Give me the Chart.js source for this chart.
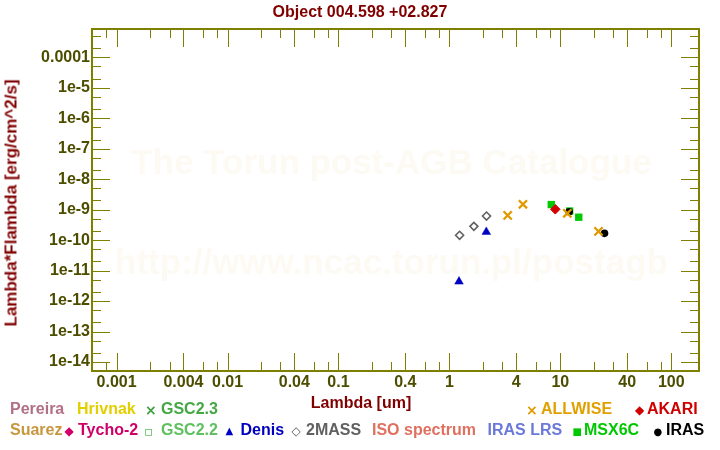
<!DOCTYPE html>
<html><head><meta charset="utf-8">
<script src="https://cdn.jsdelivr.net/npm/chart.js@4.4.0/dist/chart.umd.min.js"></script>
<style>
html,body{margin:0;padding:0;background:#fff;}
#wrap{position:relative;width:720px;height:450px;overflow:hidden;font-family:"Liberation Sans",Arial,sans-serif;font-weight:bold;}
#c{position:absolute;left:0;top:0;}
.t{position:absolute;white-space:nowrap;font-weight:bold;}
</style></head><body>
<div id="wrap"><canvas id="c" width="720" height="450"></canvas></div>
<script>
// ---- data ----
const xTickValues = [0.001,0.004,0.01,0.04,0.1,0.4,1,4,10,40,100];
const xTickLabels = ["0.001","0.004","0.01","0.04","0.1","0.4","1","4","10","40","100"];
const yTickValues = [1e-4,1e-5,1e-6,1e-7,1e-8,1e-9,1e-10,1e-11,1e-12,1e-13,1e-14];
const yTickLabels = ["0.0001","1e-5","1e-6","1e-7","1e-8","1e-9","1e-10","1e-11","1e-12","1e-13","1e-14"];

const twomassX = [1.235, 1.662, 2.159];
const twomassY = [1.44e-10, 2.84e-10, 6.18e-10];
const denisX = [1.22, 2.15];
const denisY = [4.35e-12, 1.86e-10];
const allwiseX = [3.35, 4.6, 11.56, 22.08];
const allwiseY = [6.51e-10, 1.50e-9, 7.58e-10, 1.94e-10];
const msxX = [8.28, 12.13, 14.65];
const msxY = [1.47e-9, 9.0e-10, 5.64e-10];
const akariX = [9];
const akariY = [1.03e-9];
const irasX = [12, 25];
const irasY = [8.55e-10, 1.67e-10];

const pts = (xs, ys) => xs.map((x, i) => ({x: x, y: ys[i]}));

// ---- text overlay ----
const wrap = document.getElementById('wrap');
function addText(str, left, baseline, color, size, opts) {
  opts = opts || {};
  const s = document.createElement('div');
  s.className = 't';
  s.textContent = str;
  s.style.color = color;
  s.style.fontSize = size + 'px';
  s.style.lineHeight = size + 'px';
  s.style.top = (baseline - 0.8465 * size) + 'px';
  s.style.left = left + 'px';
  if (opts.center) s.style.transform = 'translateX(-50%)';
  if (opts.family) s.style.fontFamily = opts.family;
  wrap.appendChild(s);
  return s;
}
addText("Object 004.598 +02.827", 360, 17.5, "#800000", 16, {center: true});
addText("Lambda [um]", 361, 409, "#800000", 16, {center: true});
const yt = document.createElement('div');
yt.className = 't';
yt.textContent = "Lambda*Flambda [erg/cm^2/s]";
yt.style.cssText += 'color:#800000;font-size:17px;line-height:17px;left:10.5px;top:203px;transform:translate(-50%,-50%) rotate(-90deg);';
wrap.appendChild(yt);

const sym = "DejaVu Sans";
// legend row 1
addText("Pereira", 10, 415, "#b07088", 16);
addText("Hrivnak", 77, 415, "#e3cf00", 16);
addText("×", 145, 414.5, "#40a040", 14, {family: sym});
addText("GSC2.3", 161, 415, "#44a844", 16);
addText("×", 526, 414.5, "#e09a00", 14, {family: sym});
addText("ALLWISE", 541, 415, "#e0a000", 16);
addText("◆", 635, 414, "#d00000", 12, {family: sym});
addText("AKARI", 647, 415, "#d00000", 16);
// legend row 2
addText("Suarez", 10, 435.7, "#c8963c", 16);
addText("◆", 64.5, 435, "#d0006a", 12, {family: sym});
addText("Tycho-2", 78, 435.7, "#d0006a", 16);
addText("▫", 144, 436, "#60c060", 14, {family: sym});
addText("GSC2.2", 161, 435.7, "#60c060", 16);
addText("▲", 225.5, 434.5, "#0000c0", 10, {family: sym});
addText("Denis", 240.5, 435.7, "#0000c0", 16);
addText("◇", 291.5, 435, "#606060", 12, {family: sym});
addText("2MASS", 306, 435.7, "#606060", 16);
addText("ISO spectrum", 372, 435.7, "#e07060", 16);
addText("IRAS LRS", 487.5, 435.7, "#6a78d8", 16);
addText("■", 572.5, 435, "#00c800", 10, {family: sym});
addText("MSX6C", 584, 435.7, "#00c800", 16);
addText("●", 653.5, 435, "#000000", 10, {family: sym});
addText("IRAS", 666, 435.7, "#000000", 16);

// ---- plugins ----
const FRAME = '#808000';
const watermark = {
  id: 'watermark',
  beforeDatasetsDraw(chart) {
    const a = chart.chartArea, ctx = chart.ctx;
    ctx.save();
    ctx.fillStyle = '#fcfaf3';
    ctx.font = 'bold 35px "Liberation Sans", Arial, sans-serif';
    ctx.textAlign = 'center';
    ctx.textBaseline = 'middle';
    const cx = (a.left + a.right) / 2 - 4;
    ctx.fillText('The Torun post-AGB Catalogue', cx, a.top + (a.bottom - a.top) * 0.395);
    ctx.fillText('http://www.ncac.torun.pl/postagb', cx, a.top + (a.bottom - a.top) * 0.688);
    ctx.restore();
  }
};
const frame = {
  id: 'frame',
  afterDatasetsDraw(chart) {
    const a = chart.chartArea, ctx = chart.ctx;
    const xs = chart.scales.x, ys = chart.scales.y;
    ctx.save();
    ctx.strokeStyle = FRAME;
    ctx.lineWidth = 1;
    ctx.beginPath();
    for (let n = -4; n <= 2; n++) {
      for (const m of [1, 2, 3, 4, 6, 8]) {
        const v = m * Math.pow(10, n);
        if (v <= xs.min || v >= xs.max) continue;
        const px = Math.round(xs.getPixelForValue(v)) + 0.5;
        const L = (m === 1 || m === 4) ? 18 : 9;
        ctx.moveTo(px, a.top); ctx.lineTo(px, a.top + L);
        ctx.moveTo(px, a.bottom); ctx.lineTo(px, a.bottom - L);
      }
    }
    for (let n = -15; n <= -3; n++) {
      for (const m of [1, 2, 5]) {
        const v = m * Math.pow(10, n);
        if (v <= ys.min || v >= ys.max) continue;
        const py = Math.round(ys.getPixelForValue(v)) + 0.5;
        const L = (m === 1) ? 18 : 9;
        ctx.moveTo(a.left, py); ctx.lineTo(a.left + L, py);
        ctx.moveTo(a.right, py); ctx.lineTo(a.right - L, py);
      }
    }
    ctx.stroke();
    ctx.lineWidth = 2;
    ctx.strokeRect(a.left, a.top, a.right - a.left, a.bottom - a.top);
    ctx.restore();
  }
};

const tickFont = {family: '"Liberation Sans", Arial, sans-serif', weight: 'bold', size: 15};
const labelFor = (vals, labs) => (v) => {
  for (let i = 0; i < vals.length; i++) if (Math.abs(Math.log10(v) - Math.log10(vals[i])) < 1e-6) return labs[i];
  return '';
};

new Chart(document.getElementById('c'), {
  type: 'scatter',
  data: {
    datasets: [
      {label: 'ALLWISE', data: pts(allwiseX, allwiseY), pointStyle: 'crossRot', radius: 5.8, borderColor: '#e09a00', borderWidth: 2.3, backgroundColor: '#e09a00'},
      {label: 'AKARI', data: pts(akariX, akariY), pointStyle: 'rectRot', radius: 4.8, borderColor: '#d00000', borderWidth: 1, backgroundColor: '#d00000'},
      {label: 'IRAS', data: pts(irasX, irasY), pointStyle: 'circle', radius: 3.8, borderColor: '#000000', borderWidth: 0, backgroundColor: '#000000'},
      {label: 'MSX6C', data: pts(msxX, msxY), pointStyle: 'rect', radius: 5.2, borderColor: '#00c800', borderWidth: 0, backgroundColor: '#00c800'},
      {label: 'Denis', data: pts(denisX, denisY), pointStyle: 'triangle', radius: 5, borderColor: '#0000c0', borderWidth: 0.5, backgroundColor: '#0000c0'},
      {label: '2MASS', data: pts(twomassX, twomassY), pointStyle: 'rectRot', radius: 4, borderColor: '#606060', borderWidth: 1.6, backgroundColor: 'rgba(255,255,255,0)'}
    ]
  },
  options: {
    responsive: false,
    animation: false,
    devicePixelRatio: 1,
    events: [],
    layout: {padding: {left: 0, right: 21, top: 29, bottom: 0}},
    plugins: {legend: {display: false}, title: {display: false}, tooltip: {enabled: false}},
    scales: {
      x: {
        type: 'logarithmic', position: 'bottom', min: 6.04e-4, max: 177.7,
        grid: {display: false, drawTicks: false}, border: {display: false},
        afterBuildTicks: (s) => { s.ticks = xTickValues.map(v => ({value: v, major: false})); },
        afterFit: (s) => { s.height = 79; },
        ticks: {autoSkip: false, maxRotation: 0, minRotation: 0, padding: 2, color: '#4d4d00', font: Object.assign({}, tickFont, {size: 16}), callback: labelFor(xTickValues, xTickLabels)}
      },
      y: {
        type: 'logarithmic', position: 'left', min: 5.07e-15, max: 8.49e-4,
        grid: {display: false, drawTicks: false}, border: {display: false},
        afterBuildTicks: (s) => { s.ticks = yTickValues.slice().reverse().map(v => ({value: v, major: false})); },
        afterFit: (s) => { s.width = 92; },
        ticks: {autoSkip: false, padding: 2, color: '#4d4d00', font: Object.assign({}, tickFont, {size: 16}), callback: labelFor(yTickValues, yTickLabels)}
      }
    }
  },
  plugins: [watermark, frame]
});
</script>
</body></html>
